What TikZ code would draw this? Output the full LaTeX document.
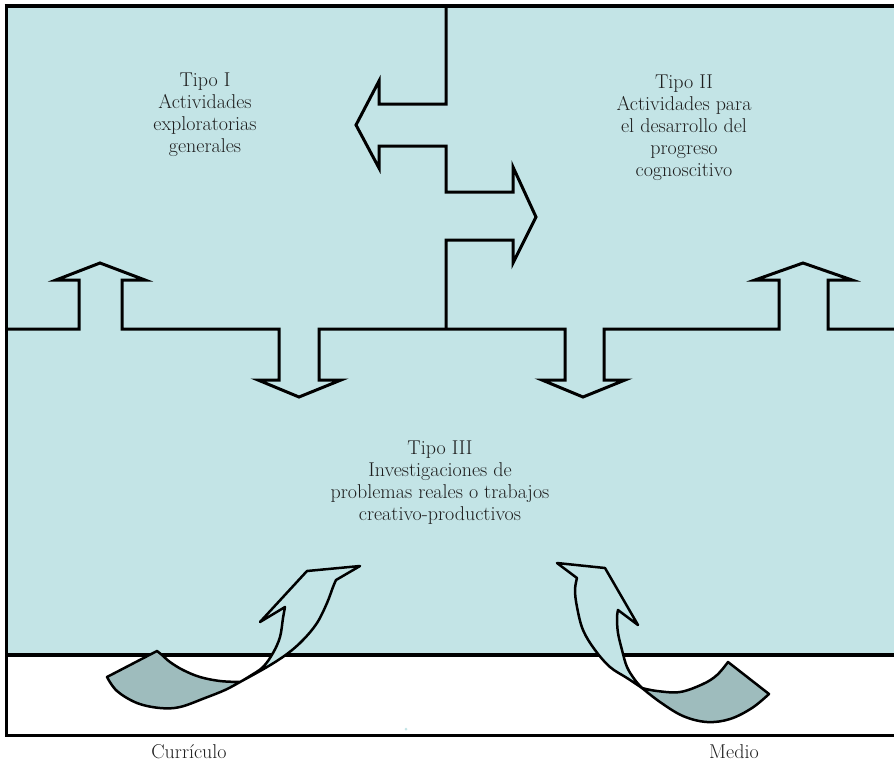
\documentclass[tikz,border=0pt]{standalone}
\usepackage{fontspec}
\definecolor{boxblue}{HTML}{C3E4E6}
\definecolor{ribgray}{HTML}{9EBCBD}
\definecolor{txt}{HTML}{1E1E1E}
\begin{document}
\begin{tikzpicture}[x=1pt,y=-1pt,
  shapeline/.style={draw=black,line width=3pt,miter limit=10},
  ribbon/.style={draw=black,line width=2.5pt,line join=round},
  lbl/.style={align=center,font=\fontsize{20}{22}\selectfont,text=txt,inner sep=0pt}]
\useasboundingbox (0,0) rectangle (894,761);
\fill[boxblue] (6.5,6) rectangle (894,655);
\draw[line width=4pt] (4.5,6) -- (894,6);
\draw[line width=3pt] (6.5,4) -- (6.5,736.5);
\draw[line width=4pt] (6.5,655) -- (894,655);
\draw[line width=2.5pt] (5,735.5) -- (894,735.5);
% central divider with left/right arrows
\draw[shapeline] (446,6) -- (446,104) -- (379,104) -- (379,81) -- (356,125) -- (379,168) -- (379,146) -- (446,146) -- (446,192) -- (513,192) -- (513,167) -- (536,217) -- (513,263) -- (513,240) -- (446,240) -- (446,329);
% horizontal divider with up/down arrows
\draw[shapeline] (6.5,329) -- (79,329) -- (79,280) -- (56,280) -- (100,263) -- (145,280) -- (122,280) -- (122,329) -- (279,329) -- (279,380) -- (258,380) -- (299,397) -- (341,380) -- (319,380) -- (319,329) -- (565,329) -- (565,380) -- (542,380) -- (583,397) -- (625,380) -- (604,380) -- (604,329) -- (779,329) -- (779,280) -- (755,280) -- (803,263) -- (852,280) -- (828,280) -- (828,329) -- (894,329);
% left ribbon (Curriculo)
\filldraw[ribbon,fill=ribgray] (157,651) -- (107,677) -- plot[smooth,tension=0.6] coordinates {(107,677) (117,691) (137,703) (160,708) (180,707) (205,698) (225,690) (240,682)} -- plot[smooth,tension=0.6] coordinates {(240,682) (220,681) (200,677) (183,670) (170,662) (162,655) (157,651)} -- cycle;
\filldraw[ribbon,fill=boxblue] (240,682) -- plot[smooth,tension=0.6] coordinates {(240,682) (267,667) (287,654) (303,640) (317,623) (327,603) (333,587) (336,580)} -- (360,566) -- (307,571) -- (260,622) -- (285,607) -- plot[smooth,tension=0.6] coordinates {(285,607) (283,618) (280,637) (273,653) (263,667) (250,676) (240,682)} -- cycle;
% right ribbon (Medio)
\filldraw[ribbon,fill=ribgray] (642,688) -- plot[smooth,tension=0.6] coordinates {(642,688) (657,691) (680,692) (703,684) (717,675) (728,662)} -- (769,694) -- plot[smooth,tension=0.6] coordinates {(769,694) (752,708) (730,719) (707,722) (683,716) (660,702) (642,688)} -- cycle;
\filldraw[ribbon,fill=boxblue] (642,688) -- plot[smooth,tension=0.6] coordinates {(642,688) (627,678) (610,667) (595,650) (583,630) (577,607) (575,590) (577,578)} -- (557,563) -- (605,568) -- (638,625) -- (618,610) -- plot[smooth,tension=0.6] coordinates {(618,610) (617,618) (618,633) (622,650) (627,667) (635,680) (642,688)} -- cycle;
\fill[boxblue] (406,729) circle (1.5);
% texts
\node[lbl] (t1) at (205,115) {Tipo I\\Actividades\\exploratorias\\generales};
\node[lbl] (t2) at (684,128) {Tipo II\\Actividades para\\el desarrollo del\\progreso\\cognoscitivo};
\node[lbl] (t3) at (440,483) {Tipo III\\Investigaciones de\\problemas reales o trabajos\\creativo-productivos};
\node[lbl,anchor=base] (cur) at (189,758) {Currículo};
\node[lbl,anchor=base] (med) at (734,758) {Medio};
\end{tikzpicture}
\end{document}
